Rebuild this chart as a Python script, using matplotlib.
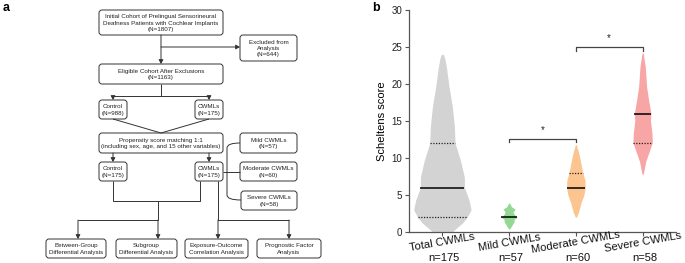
import numpy as np
import matplotlib.pyplot as plt
from matplotlib.patches import FancyBboxPatch, PathPatch
from matplotlib.path import Path
import matplotlib.transforms as mtransforms

plt.rcParams['font.family'] = ['Liberation Sans', 'DejaVu Sans']

# ---- data: panel b (violins) ----
groups = ["Total CWMLs", "Mild CWMLs", "Moderate CWMLs", "Severe CWMLs"]
n_labels = ["n=175", "n=57", "n=60", "n=58"]
medians = [6, 2, 6, 16]
q1 = [2, 2, 6, 12]
q3 = [12, 2, 8, 16]
colors = ["#d3d3d3", "#93d893", "#fcc48e", "#f7a5a5"]

total_y = [0, 0.3, 1.2, 2.0, 3.0, 4.3, 6.0, 7.4, 9.7, 12.0, 14.2, 16.9, 19.6, 22.3, 23.5, 24.0]
total_w = [0.15, 0.18, 0.30, 0.37, 0.43, 0.40, 0.33, 0.33, 0.27, 0.19, 0.18, 0.15, 0.10, 0.06, 0.035, 0.015]
mild_y = [0.4, 0.95, 1.4, 1.7, 2.0, 2.4, 2.7, 3.1, 3.4, 3.9]
mild_w = [0.008, 0.045, 0.075, 0.075, 0.12, 0.075, 0.06, 0.09, 0.037, 0.008]
mod_y = [2.0, 2.7, 3.9, 5.0, 6.0, 7.0, 8.1, 9.3, 10.6, 11.8]
mod_w = [0.008, 0.04, 0.075, 0.12, 0.14, 0.135, 0.10, 0.075, 0.045, 0.008]
sev_y = [7.8, 8.4, 9.5, 10.9, 12.1, 13.3, 15.1, 16.0, 17.8, 19.6, 22.3, 24.2]
sev_w = [0.008, 0.022, 0.045, 0.10, 0.145, 0.14, 0.117, 0.125, 0.09, 0.06, 0.04, 0.008]
profiles = [(total_y, total_w), (mild_y, mild_w), (mod_y, mod_w), (sev_y, sev_w)]

# significance brackets: (left group, right group, height)
brackets = [(1, 2, 12.6), (2, 3, 25.0)]

# ---- data: panel a (flowchart texts) ----
box_texts = [
    "Initial Cohort of Prelingual Sensorineural\nDeafness Patients with Cochlear Implants\n(N=1807)",
    "Excluded from\nAnalysis\n(N=644)",
    "Eligible Cohort After Exclusions\n(N=1163)",
    "Control\n(N=988)",
    "CWMLs\n(N=175)",
    "Propensity score matching 1:1\n(including sex, age, and 15 other variables)",
    "Control\n(N=175)",
    "CWMLs\n(N=175)",
    "Mild CWMLs\n(N=57)",
    "Moderate CWMLs\n(N=60)",
    "Severe CWMLs\n(N=58)",
    "Between-Group\nDifferential Analysis",
    "Subgroup\nDifferential Analysis",
    "Exposure-Outcome\nCorrelation Analysis",
    "Prognostic Factor\nAnalysis",
]

fig = plt.figure(figsize=(6.85, 2.63), dpi=100)

# ================= panel a =================
axa = fig.add_axes([0, 0, 1, 1])
axa.set_xlim(0, 685)
axa.set_ylim(263, 0)
axa.axis("off")

box_pos = [
    (99, 10, 223, 35), (240, 35, 297, 61), (99, 64, 223, 84),
    (99, 100, 127, 119), (195, 100, 223, 119), (99, 133, 223, 153),
    (99, 162, 127, 181), (195, 162, 223, 181),
    (240, 133, 297, 153), (240, 162, 297, 181), (241, 191, 297, 210),
    (46, 239, 106, 258), (116, 239, 177, 258), (185, 239, 248, 258), (257, 239, 321, 258),
]
lc = "#333333"
for (x0, y0, x1, y1), t in zip(box_pos, box_texts):
    axa.add_patch(FancyBboxPatch((x0, y0), x1 - x0, y1 - y0,
                                 boxstyle="round,pad=0,rounding_size=3",
                                 fc="white", ec=lc, lw=0.7))
    axa.text((x0 + x1) / 2, (y0 + y1) / 2 + 0.5, t, ha="center", va="center",
             fontsize=4.5, color="#222222", linespacing=1.3)


def seg(pts):
    xs, ys = zip(*pts)
    axa.plot(xs, ys, color=lc, lw=0.7, solid_capstyle="butt")


def arrow(p0, p1):
    axa.annotate("", xy=p1, xytext=p0,
                 arrowprops=dict(arrowstyle="-|>,head_length=0.4,head_width=0.22",
                                 mutation_scale=6, color=lc, lw=0.7,
                                 shrinkA=0, shrinkB=0))


arrow((161, 35), (161, 64))
arrow((161, 47), (240, 47))
seg([(161, 84), (161, 96)])
seg([(113, 96), (209, 96)])
arrow((113, 96), (113, 100))
arrow((209, 96), (209, 100))
seg([(113, 119), (161, 133)])
seg([(209, 119), (161, 133)])
arrow((113, 153), (113, 162))
arrow((209, 153), (209, 162))
seg([(223, 171.5), (240, 171.5)])
vp = Path([(240, 143), (227, 143), (227, 148), (227, 195), (227, 200), (241, 200)],
          [Path.MOVETO, Path.CURVE3, Path.CURVE3, Path.LINETO, Path.CURVE3, Path.CURVE3])
axa.add_patch(PathPatch(vp, fc="none", ec=lc, lw=0.7))
seg([(113, 181), (113, 201), (200, 201), (200, 181)])
seg([(158, 201), (158, 220)])
seg([(78, 220), (158, 220)])
arrow((78, 220), (78, 239))
arrow((158, 220), (158, 239))
seg([(218, 181), (218, 220), (289, 220)])
arrow((218, 220), (218, 239))
arrow((289, 220), (289, 239))

fig.text(3 / 685, 1 - 2 / 263, "a", fontsize=9, fontweight="bold", va="top", ha="left")
fig.text(372 / 685, 1 - 2 / 263, "b", fontsize=9, fontweight="bold", va="top", ha="left")

# ================= panel b =================
ax = fig.add_axes([409 / 685, 31 / 263, 267 / 685, 222 / 263])
ax.patch.set_alpha(0)
for i, ((vy, vw), c) in enumerate(zip(profiles, colors)):
    vy = np.array(vy)
    vw = np.array(vw)
    ax.fill_betweenx(vy, i - vw, i + vw, color=c, lw=0)
    hw = np.interp(medians[i], vy, vw)
    ax.plot([i - hw, i + hw], [medians[i]] * 2, color="black", lw=1.1, solid_capstyle="butt")
    for q in (q1[i], q3[i]):
        if q != medians[i]:
            hq = np.interp(q, vy, vw)
            ax.plot([i - hq, i + hq], [q] * 2, color="#222222", lw=0.9, ls=(0, (1, 1.2)))

for a, b, h in brackets:
    ax.plot([a, a, b, b], [h - 0.5, h, h, h - 0.5], color="#444444", lw=0.9)
    ax.text((a + b) / 2, h + 0.5, "*", ha="center", va="bottom", fontsize=7, color="#222222")

ax.set_xlim(-0.5, 3.5)
ax.set_ylim(0, 30)
ax.set_yticks(range(0, 31, 5))
ax.set_xticks(range(4))
ax.set_xticklabels([])
ax.spines["top"].set_visible(False)
ax.spines["right"].set_visible(False)
for s in ("left", "bottom"):
    ax.spines[s].set_color("#555555")
    ax.spines[s].set_linewidth(0.9)
ax.tick_params(axis="both", colors="#555555", length=3, width=0.8, labelsize=7,
               labelcolor="#222222", pad=2)
ax.set_ylabel("Scheltens score", fontsize=8, labelpad=3)

trans = mtransforms.blended_transform_factory(ax.transData, ax.transAxes)
for i, (g, n) in enumerate(zip(groups, n_labels)):
    ax.text(i, -0.048, g, transform=trans, rotation=10, rotation_mode="anchor",
            ha="center", va="center", fontsize=8, color="#111111")
    ax.text(i + 0.03, -0.117, n, transform=trans, ha="center", va="center",
            fontsize=8, color="#111111")

fig.savefig("out.png", dpi=100)
